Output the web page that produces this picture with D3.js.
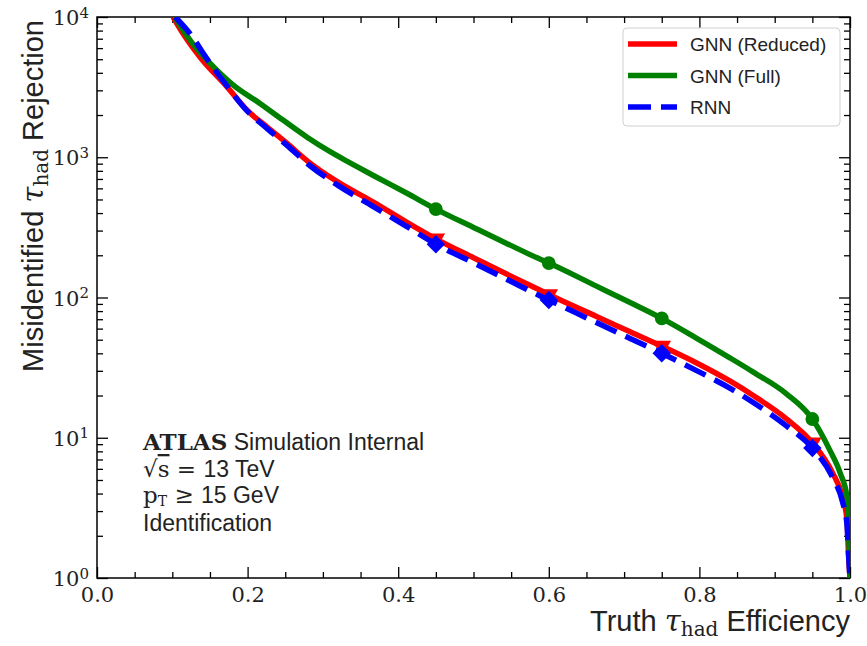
<!DOCTYPE html>
<html>
<head>
<meta charset="utf-8">
<script src="https://cdn.jsdelivr.net/npm/d3@7"></script>
<style>
  body { margin: 0; background: #fff; }
  svg { display: block; }
  .serif { font-family: "DejaVu Serif", "Liberation Serif", serif; }
  .sans { font-family: "Liberation Sans", "DejaVu Sans", sans-serif; }
</style>
</head>
<body>
<svg width="867" height="646"></svg>
<script>
// efficiency / rejection
const reducedEff = [0.101, 0.114, 0.137, 0.173, 0.199, 0.226, 0.252, 0.283, 0.319, 0.367, 0.411, 0.45, 0.50, 0.544, 0.588, 0.60, 0.664, 0.708, 0.75, 0.797, 0.841, 0.871, 0.916, 0.95, 0.977, 0.99, 0.996, 0.998, 1.0]
const reducedRej = [10000, 7670, 5170, 3160, 2170, 1640, 1260, 908, 670, 479, 345, 262, 192, 147, 113, 105, 73, 57, 45, 34, 25.3, 20.1, 13.6, 9.2, 5.6, 3.8, 2.6, 1.5, 1.0]

const fullEff = [0.103, 0.127, 0.15, 0.181, 0.216, 0.247, 0.279, 0.309, 0.336, 0.367, 0.411, 0.45, 0.50, 0.544, 0.588, 0.60, 0.664, 0.708, 0.75, 0.797, 0.841, 0.871, 0.916, 0.95, 0.973, 0.987, 0.996, 0.998, 1.0]
const fullRej = [10000, 6460, 4690, 3270, 2430, 1840, 1390, 1100, 912, 741, 556, 427, 316, 243, 188, 176, 120, 92, 71, 51, 37, 29.5, 20.5, 13.6, 8.2, 5.6, 3.8, 2.3, 1.0]

const rnnEff = [0.104, 0.127, 0.141, 0.173, 0.199, 0.226, 0.252, 0.283, 0.319, 0.367, 0.411, 0.45, 0.50, 0.544, 0.588, 0.60, 0.664, 0.708, 0.75, 0.797, 0.841, 0.871, 0.916, 0.95, 0.977, 0.99, 0.996, 0.998, 1.0]
const rnnRej = [10000, 7180, 5520, 3200, 2150, 1600, 1220, 870, 635, 445, 322, 240, 177, 135, 103, 96, 66, 51, 40, 30, 22.5, 17.9, 12.1, 8.45, 5.2, 3.5, 2.4, 1.5, 1.0]

// working points
const markerEff = [0.45, 0.6, 0.75, 0.95]
const reducedMarkers = [262, 105, 45, 9.2]
const fullMarkers = [427, 176, 71, 13.6]
const rnnMarkers = [240, 96, 40, 8.45]

const xTicks = [0.0, 0.2, 0.4, 0.6, 0.8, 1.0]
const yTicks = [1, 10, 100, 1000, 10000]
const legendNames = ['GNN (Reduced)', 'GNN (Full)', 'RNN']

let svg = d3.select('svg')
let plot = { left: 97, right: 850, top: 17, bottom: 578 }

let scale = {
    x: d3.scaleLinear().domain([0, 1]).range([plot.left, plot.right]),
    y: d3.scaleLog().domain([1, 10000]).range([plot.bottom, plot.top])
}

let minorX = d3.range(0, 1.0001, 0.05).filter(v => Math.abs(v * 5 - Math.round(v * 5)) > 1e-6)
let minorY = []
for (let d = 1; d < 10000; d *= 10) for (let m = 2; m <= 9; m++) minorY.push(d * m)

svg.append('defs').append('clipPath').attr('id', 'clip')
    .append('rect')
    .attr('x', plot.left).attr('y', plot.top)
    .attr('width', plot.right - plot.left).attr('height', plot.bottom - plot.top)

function styleAxis(g) {
    g.select('.domain').remove()
    g.selectAll('line').attr('stroke', '#000').attr('stroke-width', 1.3)
}

// bottom axis with labels
svg.append('g')
    .attr('transform', `translate(0,${plot.bottom})`)
    .call(d3.axisBottom(scale.x).tickValues(xTicks).tickSize(-11).tickPadding(9).tickFormat(d3.format('.1f')))
    .call(styleAxis)
    .call(g => g.selectAll('text').attr('class', 'serif').attr('font-size', 21).attr('fill', '#222'))
svg.append('g')
    .attr('transform', `translate(0,${plot.bottom})`)
    .call(d3.axisBottom(scale.x).tickValues(minorX).tickSize(-6).tickFormat(''))
    .call(styleAxis)
// top axis
svg.append('g')
    .attr('transform', `translate(0,${plot.top})`)
    .call(d3.axisTop(scale.x).tickValues(xTicks).tickSize(-11).tickFormat(''))
    .call(styleAxis)
svg.append('g')
    .attr('transform', `translate(0,${plot.top})`)
    .call(d3.axisTop(scale.x).tickValues(minorX).tickSize(-6).tickFormat(''))
    .call(styleAxis)

// left axis with 10^n labels
svg.append('g')
    .attr('transform', `translate(${plot.left},0)`)
    .call(d3.axisLeft(scale.y).tickValues(yTicks).tickSize(-11).tickPadding(8).tickFormat(''))
    .call(styleAxis)
    .call(g => g.selectAll('.tick text').each(function(d) {
        let t = d3.select(this)
            .attr('class', 'serif').attr('font-size', 21).attr('fill', '#222')
            .attr('dy', '0.36em')
        t.append('tspan').text('10')
        t.append('tspan').attr('dy', '-0.5em').attr('font-size', 15).text(Math.round(Math.log10(d)))
    }))
svg.append('g')
    .attr('transform', `translate(${plot.left},0)`)
    .call(d3.axisLeft(scale.y).tickValues(minorY).tickSize(-6).tickFormat(''))
    .call(styleAxis)
// right axis
svg.append('g')
    .attr('transform', `translate(${plot.right},0)`)
    .call(d3.axisRight(scale.y).tickValues(yTicks).tickSize(-11).tickFormat(''))
    .call(styleAxis)
svg.append('g')
    .attr('transform', `translate(${plot.right},0)`)
    .call(d3.axisRight(scale.y).tickValues(minorY).tickSize(-6).tickFormat(''))
    .call(styleAxis)

// frame
svg.append('rect')
    .attr('x', plot.left).attr('y', plot.top)
    .attr('width', plot.right - plot.left).attr('height', plot.bottom - plot.top)
    .attr('fill', 'none').attr('stroke', '#000').attr('stroke-width', 1.5)

// curves
let series = [
    { eff: reducedEff, rej: reducedRej, marks: reducedMarkers, color: '#ff0000', dash: null, symbol: d3.symbolTriangle, rot: 180, size: 150 },
    { eff: fullEff, rej: fullRej, marks: fullMarkers, color: '#008000', dash: null, symbol: d3.symbolCircle, rot: 0, size: 150 },
    { eff: rnnEff, rej: rnnRej, marks: rnnMarkers, color: '#0000ff', dash: '23 10', symbol: d3.symbolSquare, rot: 45, size: 170 }
]

let line = d3.line()
    .x(d => scale.x(d[0]))
    .y(d => scale.y(d[1]))
    .curve(d3.curveMonotoneX)

let curves = svg.append('g').attr('clip-path', 'url(#clip)')

series.forEach(s => {
    let pts = s.eff.map((e, i) => [e, s.rej[i]])
    curves.append('path')
        .datum(pts)
        .attr('d', line)
        .attr('fill', 'none')
        .attr('stroke', s.color)
        .attr('stroke-width', 5.5)
        .attr('stroke-dasharray', s.dash)

    curves.selectAll(null)
        .data(markerEff.map((e, i) => [e, s.marks[i]]))
        .enter()
        .append('path')
        .attr('d', d3.symbol().type(s.symbol).size(s.size))
        .attr('transform', d => `translate(${scale.x(d[0])},${scale.y(d[1])}) rotate(${s.rot})`)
        .attr('fill', s.color)
})

// legend
let legend = svg.append('g').attr('transform', 'translate(623,28)')
legend.append('rect')
    .attr('width', 217).attr('height', 98).attr('rx', 4)
    .attr('fill', '#fff').attr('fill-opacity', 0.85)
    .attr('stroke', '#d0d0d0').attr('stroke-width', 1)

legendNames.forEach((name, i) => {
    let y = 16 + i * 31.5
    legend.append('line')
        .attr('x1', 5).attr('x2', 54).attr('y1', y).attr('y2', y)
        .attr('stroke', series[i].color).attr('stroke-width', 5.5)
        .attr('stroke-dasharray', series[i].dash)
    legend.append('text')
        .attr('class', 'sans')
        .attr('x', 67).attr('y', y + 7)
        .attr('font-size', 19)
        .attr('fill', '#222')
        .text(name)
})

// ATLAS text block
let info = svg.append('g').attr('fill', '#222')
let t1 = info.append('text').attr('x', 143).attr('y', 450).attr('font-size', 23)
t1.append('tspan').attr('class', 'serif').attr('font-weight', 'bold').text('ATLAS')
t1.append('tspan').attr('class', 'sans').text(' Simulation Internal')

let t2 = info.append('text').attr('x', 143).attr('y', 477).attr('font-size', 23)
t2.append('tspan').attr('class', 'serif').text('√')
t2.append('tspan').attr('class', 'serif').attr('text-decoration', 'overline').text('s')
t2.append('tspan').attr('class', 'serif').text(' = ')
t2.append('tspan').attr('class', 'sans').text('13 TeV')

let t3 = info.append('text').attr('x', 143).attr('y', 503).attr('font-size', 23)
t3.append('tspan').attr('class', 'serif').text('p')
t3.append('tspan').attr('class', 'serif').attr('font-size', 14).attr('dy', 3).text('T')
t3.append('tspan').attr('class', 'serif').attr('dy', -3).text(' ≥ ')
t3.append('tspan').attr('class', 'sans').text('15 GeV')

info.append('text').attr('class', 'sans').attr('x', 143).attr('y', 531).attr('font-size', 23).text('Identification')

// axis titles
let xl = svg.append('text')
    .attr('x', plot.right).attr('y', 631)
    .attr('text-anchor', 'end')
    .attr('font-size', 29).attr('fill', '#222')
xl.append('tspan').attr('class', 'sans').text('Truth ')
xl.append('tspan').attr('class', 'serif').attr('font-style', 'italic').text('τ')
xl.append('tspan').attr('class', 'serif').attr('font-size', 20).attr('dy', 5).text('had')
xl.append('tspan').attr('class', 'sans').attr('dy', -5).text(' Efficiency')

let yl = svg.append('text')
    .attr('transform', `translate(43,${plot.top + 3}) rotate(-90)`)
    .attr('text-anchor', 'end')
    .attr('font-size', 29).attr('fill', '#222')
yl.append('tspan').attr('class', 'sans').text('Misidentified ')
yl.append('tspan').attr('class', 'serif').attr('font-style', 'italic').text('τ')
yl.append('tspan').attr('class', 'serif').attr('font-size', 20).attr('dy', 5).text('had')
yl.append('tspan').attr('class', 'sans').attr('dy', -5).text(' Rejection')
</script>
</body>
</html>
